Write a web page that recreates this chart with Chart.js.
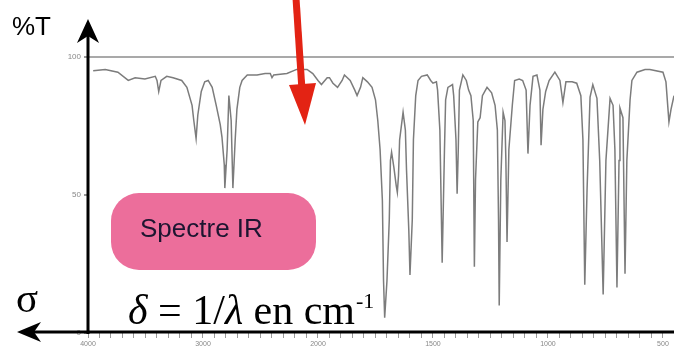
<!DOCTYPE html>
<html lang="fr">

<head>
  <meta charset="UTF-8">
  <title>Spectre IR</title>
  <style>
    body { margin: 0; background: #fff; }
    #box { width: 674px; height: 349px; }
  </style>
</head>

<body>
  <div id="box">
    <canvas id="myChart" width="674" height="349"></canvas>
  </div>
</body>

</html>
<script src="https://cdn.jsdelivr.net/npm/chart.js"></script>

<script>
  // nombre d'onde (cm-1) et transmittance (%)
  var sigma = [
    3955, 3850, 3740, 3650, 3590, 3505, 3415, 3400, 3385, 3365,
    3315, 3260, 3185, 3140, 3095, 3080, 3060, 3045, 3015, 2985,
    2955, 2920, 2885, 2850, 2835, 2815, 2810, 2790, 2775, 2755,
    2740, 2720, 2705, 2680, 2660, 2615, 2530, 2460, 2415, 2400,
    2385, 2270, 2185, 2095, 2045, 2000, 1985, 1960, 1950, 1935,
    1915, 1895, 1885, 1860, 1840, 1830, 1815, 1805, 1785, 1765,
    1750, 1740, 1730, 1720, 1715, 1710, 1700, 1690, 1685, 1680,
    1670, 1660, 1655, 1650, 1645, 1630, 1620, 1615, 1605, 1600,
    1590, 1585, 1575, 1565, 1550, 1525, 1510, 1500, 1485, 1480,
    1470, 1460, 1450, 1445, 1435, 1415, 1410, 1400, 1395, 1390,
    1385, 1370, 1355, 1345, 1335, 1325, 1320, 1315, 1305, 1295,
    1285, 1265, 1245, 1230, 1220, 1215, 1212, 1205, 1195, 1187,
    1183, 1178, 1170, 1155, 1145, 1125, 1110, 1095, 1087, 1078,
    1065, 1048, 1035, 1030, 1022, 1010, 995, 970, 948, 935,
    922, 895, 875, 857, 848, 840, 830, 817, 805, 787,
    775, 760, 748, 730, 717, 709, 700, 691, 687, 674,
    665, 657, 643, 635, 613, 578, 557, 500, 487, 474,
    465, 452
  ];
  var transmittance = [
    95, 95.5, 94.5, 91.5, 92.5, 92, 93, 91.5, 87.5, 91.5,
    93, 92.5, 91.5, 89, 82.5, 77, 70.5, 79, 87.5, 91,
    91.5, 89, 82.5, 75.5, 71, 61, 52.5, 66.5, 86, 77,
    52.5, 70, 81, 89, 91.5, 93.5, 93.5, 94, 94, 92.5,
    93.5, 94, 95.5, 95.5, 94, 91.5, 90, 92.5, 92.5, 90.5,
    89, 91.5, 93.5, 91.5, 88, 86, 89, 92.5, 91, 89,
    84.5, 77, 66.5, 48, 19, 5.5, 19, 41, 62.5, 65.5,
    60, 53.5, 51, 57, 70, 80, 73.5, 59, 37, 21,
    41, 70, 86, 91.5, 93, 93.5, 91.5, 90.5, 91, 88,
    73.5, 25.5, 66.5, 84.5, 89, 90, 86, 70, 50.5, 66.5,
    88, 93.5, 91.5, 88, 86, 77, 24, 55.5, 76.5, 78,
    86, 89, 87, 82.5, 73.5, 41, 10, 55.5, 80, 77,
    62.5, 33, 66.5, 82.5, 91.5, 92, 91.5, 88, 65, 82.5,
    93, 93.5, 88, 68, 81, 87.5, 91.5, 94.5, 91.5, 83.5,
    91, 91, 90.5, 86, 70, 17.5, 52, 85.5, 90, 85,
    62.5, 14, 62.5, 85, 82.5, 66.5, 16.5, 62.5, 81.5, 78,
    21.5, 62.5, 84.5, 91.5, 94.5, 95.5, 95.5, 94.5, 91, 76.5,
    81, 86
  ];
  var xLabels = [4000, 3000, 2000, 1500, 1000, 500];
  var yLabels = [0, 50, 100];
  var sigmaMin = 452;

  // echelle x double sous 2000 cm-1
  function toPos(s) {
    return s >= 2000 ? (4000 - s) / 2000 : 1 + (2000 - s) / 1000;
  }
  function fromPos(p) {
    return p <= 1 ? 4000 - p * 2000 : 2000 - (p - 1) * 1000;
  }

  var points = [];
  for (var i = 0; i < sigma.length; i++) {
    points.push({ x: toPos(sigma[i]), y: transmittance[i] });
  }

  // petites graduations tous les 0.05
  var xTicks = [];
  for (var k = 0; k <= 50; k++) xTicks.push(k * 0.05);

  var decor = {
    id: 'decor',
    afterDraw(chart) {
      const c = chart.ctx;
      const a = chart.chartArea;
      c.save();

      // boite rose
      c.fillStyle = '#ec6e9b';
      c.beginPath();
      c.roundRect(111, 193, 205, 77, 28);
      c.fill();
      c.fillStyle = '#1d1530';
      c.font = '26px "Liberation Sans", Arial, sans-serif';
      c.textBaseline = 'middle';
      c.fillText('Spectre IR', 140, 230);

      // axes noirs avec fleches
      c.strokeStyle = '#000';
      c.fillStyle = '#000';
      c.lineWidth = 3;
      c.beginPath();
      c.moveTo(a.left, a.bottom + 1);
      c.lineTo(a.left, 32);
      c.moveTo(674, a.bottom - 1);
      c.lineTo(28, a.bottom - 1);
      c.stroke();
      c.beginPath();
      c.moveTo(a.left, 19);
      c.lineTo(a.left - 11, 43);
      c.lineTo(a.left, 36);
      c.lineTo(a.left + 11, 43);
      c.closePath();
      c.fill();
      c.beginPath();
      c.moveTo(17, a.bottom - 1);
      c.lineTo(41, a.bottom - 11);
      c.lineTo(34, a.bottom - 1);
      c.lineTo(41, a.bottom + 9);
      c.closePath();
      c.fill();

      // textes
      c.textBaseline = 'alphabetic';
      c.font = '26px "Liberation Sans", Arial, sans-serif';
      c.fillText('%T', 12, 35);
      c.font = '41px "Liberation Serif", serif';
      c.fillText('\u03c3', 16, 312);

      var x = 128, base = 324;
      var parts = [
        ['italic 42px "Liberation Serif", serif', '\u03b4'],
        ['42px "Liberation Serif", serif', ' = 1/'],
        ['italic 42px "Liberation Serif", serif', '\u03bb'],
        ['42px "Liberation Serif", serif', ' en cm']
      ];
      parts.forEach(p => {
        c.font = p[0];
        c.fillText(p[1], x, base);
        x += c.measureText(p[1]).width;
      });
      c.font = '22px "Liberation Serif", serif';
      c.fillText('-1', x + 1, 308);

      // fleche rouge
      c.strokeStyle = '#e32314';
      c.fillStyle = '#e32314';
      c.lineWidth = 7;
      c.beginPath();
      c.moveTo(296, -2);
      c.lineTo(302, 90);
      c.stroke();
      c.beginPath();
      c.moveTo(289, 85);
      c.lineTo(316, 83);
      c.lineTo(305, 125);
      c.closePath();
      c.fill();

      c.restore();
    }
  };

  const ctx = document.getElementById('myChart');
  new Chart(ctx, {
    type: 'line',
    data: {
      datasets: [{
        data: points,
        borderColor: '#7c7c7c',
        borderWidth: 1.5,
        pointRadius: 0,
        tension: 0,
        fill: false
      }]
    },
    options: {
      responsive: false,
      animation: false,
      devicePixelRatio: 1,
      layout: { padding: { top: 57, left: 0, right: 0, bottom: 0 } },
      plugins: { legend: { display: false }, tooltip: { enabled: false } },
      scales: {
        x: {
          type: 'linear',
          min: 0,
          max: toPos(sigmaMin),
          afterBuildTicks: s => { s.ticks = xTicks.map(v => ({ value: v })); },
          afterFit: s => { s.height = 16; },
          border: { display: false },
          grid: { drawOnChartArea: false, tickLength: 5, color: '#999' },
          ticks: {
            autoSkip: false,
            maxRotation: 0,
            padding: 2,
            color: '#888',
            font: { size: 7, family: 'Liberation Sans' },
            callback: function (v) {
              var s = fromPos(v);
              for (var j = 0; j < xLabels.length; j++) {
                if (Math.abs(s - xLabels[j]) < 1) return String(xLabels[j]);
              }
              return '';
            }
          }
        },
        y: {
          min: 0,
          max: 100,
          afterBuildTicks: s => { s.ticks = yLabels.map(v => ({ value: v })); },
          afterFit: s => { s.width = 88; },
          border: { display: false },
          grid: {
            color: c => (c.tick && c.tick.value === 100 ? '#a9a9a9' : 'rgba(0,0,0,0)'),
            tickColor: '#999',
            lineWidth: 2,
            tickLength: 4
          },
          ticks: {
            padding: 3,
            color: '#888',
            font: { size: 8, family: 'Liberation Sans' }
          }
        }
      }
    },
    plugins: [decor]
  });
</script>
